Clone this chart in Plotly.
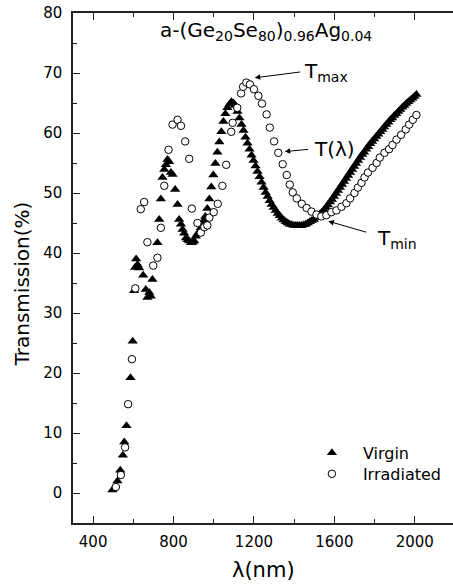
import plotly.graph_objects as go

# ---------------- data ----------------
virgin_x = [496, 521, 535, 548, 555, 566, 586, 597, 604, 609, 614, 621, 629, 649,
            662, 670, 679, 687, 695, 720, 729, 737, 745, 754, 762, 770, 778, 787,
            795, 808, 820, 828, 837, 845, 853, 862, 870, 878, 887, 895, 903, 911,
            920, 928, 936, 944, 951, 958, 968, 978, 988, 998, 1008, 1018, 1028,
            1038, 1048, 1058, 1068, 1078, 1088, 1098,
            1108, 1118, 1128, 1138, 1148, 1158, 1168, 1178, 1188, 1198,
            1208, 1218, 1228, 1238, 1248, 1258, 1268, 1278, 1288, 1298,
            1308, 1318, 1328, 1338, 1348, 1358, 1368, 1378, 1388, 1398,
            1408, 1418, 1428, 1438, 1448, 1458, 1468, 1478, 1488, 1498,
            1508, 1518, 1528, 1538, 1548, 1558, 1568, 1578, 1588, 1598,
            1608, 1618, 1628, 1638, 1648, 1658, 1668, 1678, 1688, 1698,
            1708, 1718, 1728, 1738, 1748, 1758, 1768, 1778, 1788, 1798,
            1808, 1818, 1828, 1838, 1848, 1858, 1868, 1878, 1888, 1898,
            1908, 1918, 1928, 1938, 1948, 1958, 1968, 1978, 1988, 1998, 2008]
virgin_y = [0.5, 2.0, 3.8, 6.3, 8.5, 11.2, 19.2, 25.3, 33.7, 37.6, 39.0, 38.1, 37.5, 36.3,
            33.9, 32.6, 33.4, 32.8, 35.6, 41.7, 45.6, 49.0, 52.6, 53.9, 54.7, 55.6, 55.2, 53.4,
            53.1, 50.6, 48.1, 45.6, 44.8, 43.9, 43.3, 42.5, 42.2, 42.0, 41.7, 41.8, 42.0, 42.8,
            43.2, 43.6, 44.2, 44.8, 45.4, 46.1, 47.4, 49.0, 51.0, 53.0, 54.9, 56.8, 58.5,
            60.2, 61.9, 63.2, 64.2, 64.8, 65.2, 65.0,
            64.6, 63.6, 62.5, 61.4, 60.4, 59.3, 58.3, 57.3, 56.3, 55.4,
            54.5, 53.6, 52.7, 51.8, 50.9, 50.1, 49.4, 48.7, 48.1, 47.6,
            47.1, 46.6, 46.2, 45.8, 45.5, 45.2, 45.0, 44.8, 44.7, 44.6,
            44.6, 44.6, 44.6, 44.6, 44.7, 44.8, 45.0, 45.2, 45.4, 45.6,
            45.9, 46.2, 46.5, 46.8, 47.2, 47.6, 48.0, 48.5, 48.9, 49.4,
            49.9, 50.4, 50.9, 51.4, 51.9, 52.4, 52.9, 53.4, 53.9, 54.4,
            54.9, 55.4, 55.9, 56.4, 56.8, 57.3, 57.7, 58.2, 58.6, 59.0,
            59.4, 59.8, 60.2, 60.6, 61.0, 61.4, 61.8, 62.2, 62.5, 62.9,
            63.2, 63.6, 63.9, 64.3, 64.6, 64.9, 65.2, 65.5, 65.8, 66.1, 66.4]

irr_x = [513, 538, 559, 574, 593, 610, 637, 654, 670, 699, 720, 737, 754, 775,
         795, 820, 837, 858, 878, 891, 919, 936, 953, 968, 978, 1000, 1020, 1043,
         1062, 1087, 1094, 1117, 1136, 1146, 1162, 1180, 1200, 1222, 1240, 1263,
         1279, 1300, 1321, 1343, 1363, 1378, 1393, 1413, 1438, 1462, 1486, 1511,
         1535, 1560, 1585, 1610, 1635, 1660, 1678, 1700, 1717, 1735, 1750, 1767,
         1790, 1810, 1826, 1849, 1872, 1889, 1909, 1932, 1955, 1972, 1990, 2008]
irr_y = [1.0, 3.0, 7.6, 14.8, 22.3, 34.1, 47.3, 48.5, 41.8, 37.9, 39.2, 44.2, 51.2, 57.2,
         61.4, 62.2, 61.2, 58.6, 55.7, 47.4, 45.0, 43.4, 44.3, 44.6, 45.9, 46.8, 48.2, 51.2,
         54.7, 60.2, 61.7, 64.2, 66.6, 67.7, 68.4, 68.1, 67.3, 66.2, 64.9, 63.1,
         60.9, 58.6, 56.7, 54.8, 53.0, 51.4, 50.1, 49.1, 48.2, 47.5, 46.9, 46.4,
         46.1, 46.3, 46.8, 47.1, 47.7, 48.3, 49.1, 50.0, 50.9, 51.7, 52.6, 53.4,
         54.2, 55.0, 55.9, 56.7, 57.3, 58.0, 58.9, 59.7, 60.6, 61.4, 62.2, 63.0]

x_major = [400, 800, 1200, 1600, 2000]
x_minor = [600, 1000, 1400, 1800]
y_major = [0, 10, 20, 30, 40, 50, 60, 70, 80]
y_minor = [5, 15, 25, 35, 45, 55, 65, 75]

FONT = "DejaVu Sans"

fig = go.Figure()
fig.add_trace(go.Scatter(
    x=virgin_x, y=virgin_y, mode="markers", name="Virgin", legend="legend",
    marker=dict(symbol="triangle-up", size=9, color="black", line=dict(width=0))))
fig.add_trace(go.Scatter(
    x=irr_x, y=irr_y, mode="markers", name="Irradiated", legend="legend2",
    marker=dict(symbol="circle", size=7.5, color="white", line=dict(width=1, color="black"))))

axis_common = dict(showline=True, linecolor="#222", linewidth=1.5, showgrid=False,
                   zeroline=False, ticks="inside", ticklen=7, tickwidth=1.2,
                   tickcolor="#222", tickfont=dict(family=FONT, size=15, color="black"))

fig.update_xaxes(range=[300, 2190], tickvals=x_major, mirror="ticks",
                 minor=dict(tickvals=x_minor, ticks="inside", ticklen=4, tickcolor="#222"),
                 ticklabelstandoff=4, **axis_common)
fig.update_yaxes(range=[-5, 80], tickvals=y_major, mirror=False,
                 minor=dict(tickvals=y_minor, ticks="inside", ticklen=4, tickcolor="#222"),
                 ticklabelstandoff=6, **axis_common)

annos = [
    dict(text="a-(Ge<sub>20</sub>Se<sub>80</sub>)<sub>0.96</sub>Ag<sub>0.04</sub>",
         xref="paper", yref="paper", x=0.5075, y=0.965, xanchor="center", yanchor="middle",
         showarrow=False, font=dict(family=FONT, size=20, color="black")),
    dict(text="λ(nm)", xref="paper", yref="paper", x=0.5, y=-0.092,
         xanchor="center", yanchor="middle", showarrow=False,
         font=dict(family=FONT, size=21, color="black")),
    dict(text="Transmission(%)", xref="paper", yref="paper", x=-0.135, y=0.469,
         xanchor="center", yanchor="middle", textangle=-90, showarrow=False,
         font=dict(family=FONT, size=20, color="black")),
    dict(text="T<sub>max</sub>", x=1440, y=70.2, xanchor="left", yanchor="middle",
         showarrow=False, font=dict(family=FONT, size=20, color="black")),
    dict(text="T(λ)", x=1490, y=57.4, xanchor="left", yanchor="middle",
         showarrow=False, font=dict(family=FONT, size=20, color="black")),
    dict(text="T<sub>min</sub>", x=1800, y=42.3, xanchor="left", yanchor="middle",
         showarrow=False, font=dict(family=FONT, size=20, color="black")),
]
arrows = [((1204, 69.2), (1437, 70.2)),
          ((1353, 56.9), (1477, 57.3)),
          ((1570, 45.3), (1765, 43.4))]
for (tx, ty), (ax, ay) in arrows:
    annos.append(dict(text="", x=tx, y=ty, ax=ax, ay=ay, axref="x", ayref="y",
                      showarrow=True, arrowhead=2, arrowsize=1.1, arrowwidth=1,
                      arrowcolor="black"))

legend_common = dict(xanchor="left", yanchor="top", bgcolor="rgba(0,0,0,0)",
                     borderwidth=0, itemwidth=52,
                     font=dict(family=FONT, size=16, color="black"))

fig.update_layout(
    width=453, height=585,
    margin=dict(l=73, r=0, t=13, b=62),
    paper_bgcolor="white", plot_bgcolor="white",
    font=dict(family=FONT, color="black"),
    showlegend=True,
    legend=dict(x=0.5997, y=0.1708, **legend_common),
    legend2=dict(x=0.5997, y=0.1296, **legend_common),
    annotations=annos,
)

fig.write_html("out.html", config={"displayModeBar": False},
               post_script="document.body.style.margin='0px';")
